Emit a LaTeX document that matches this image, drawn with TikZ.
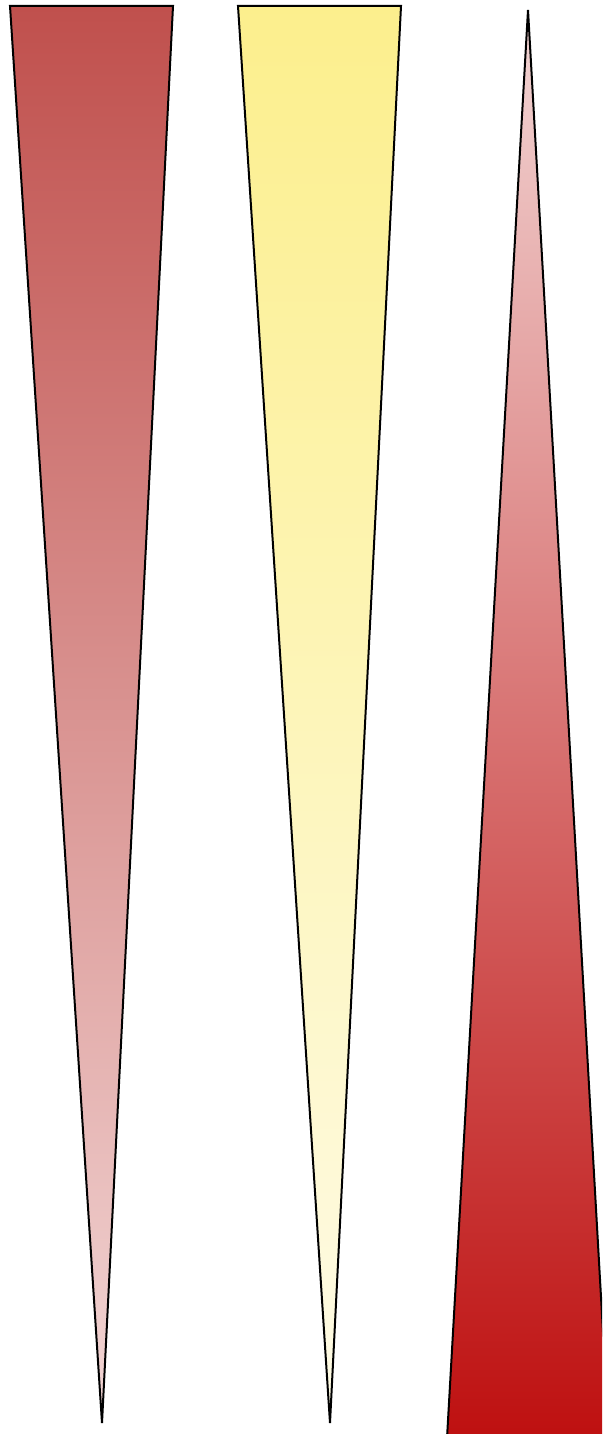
\documentclass[tikz,border=0pt]{standalone}
\usepackage{xcolor}
\usepackage{tikz}

\definecolor{deepred}{HTML}{C0504D}
\definecolor{palered}{HTML}{F2D6D5}
\definecolor{warmyellow}{HTML}{FCEF8D}
\definecolor{paleyellow}{HTML}{FEFBE6}
\definecolor{strongred}{HTML}{BE1010}

\begin{document}
\begin{tikzpicture}[x=0.5pt, y=-0.5pt, line join=miter,
    cone/.style={draw=black, line width=1pt}]
  \useasboundingbox (0,0) rectangle (602,1434);
  \clip (0,0) rectangle (602,1434);
  % falling red wedge
  \shade[cone, top color=deepred, bottom color=palered]
    (10,6) -- (173,6) -- (102,1423) -- cycle;
  % falling yellow wedge
  \shade[cone, top color=warmyellow, bottom color=paleyellow]
    (238,6) -- (401,6) -- (330,1423) -- cycle;
  % rising red wedge
  \shade[cone, top color=palered, bottom color=strongred]
    (528,10) -- (609,1438) -- (447,1438) -- cycle;
\end{tikzpicture}
\end{document}
